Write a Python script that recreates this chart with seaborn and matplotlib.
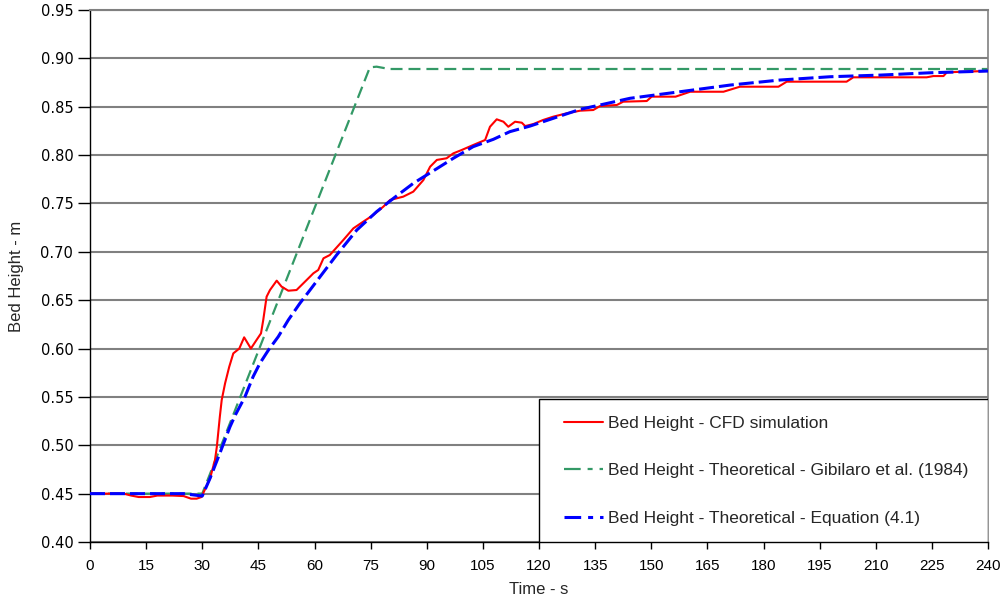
import numpy as np
import pandas as pd
import matplotlib
matplotlib.use("Agg")
import matplotlib.pyplot as plt
import seaborn as sns
from matplotlib.lines import Line2D
from matplotlib.patches import Rectangle

# ---------------- data ----------------
cfd_time = [0, 9, 11, 13, 16, 18, 22, 25, 27, 28.5, 29.8, 32.1, 33.4, 33.9, 34.7, 35.2, 36.1,
            37.2, 38.3, 39.9, 41.2, 43.0, 44.5, 45.7, 46.3, 47.2, 48.1, 49.9, 51.2, 53.0, 55.2,
            57.0, 58.8, 59.7, 61.0, 62.4, 64.1, 67.7, 70.4, 73.0, 75.7, 78.4, 80.2, 83.7, 86.4,
            89.1, 90.9, 92.7, 95.3, 97.1, 99.3, 102.4, 105.6, 106.9, 108.7, 110.5, 111.8, 113.6,
            115.4, 116.3, 118.5, 121.1, 123.8, 127.4, 131.0, 134.5, 136.3, 140.8, 142.5, 148.8,
            150.1, 156.5, 160.4, 169.3, 173.7, 184.0, 186.2, 202.2, 204.0, 223.6, 225.4, 228.1,
            229.0, 240]
cfd_height = [0.450, 0.450, 0.448, 0.4465, 0.4465, 0.448, 0.448, 0.4475, 0.4448, 0.4448, 0.4465,
              0.466, 0.4848, 0.4985, 0.5296, 0.5468, 0.564, 0.581, 0.595, 0.600, 0.6116, 0.600,
              0.6088, 0.6157, 0.6295, 0.6536, 0.6605, 0.6702, 0.664, 0.6598, 0.6605, 0.6674,
              0.6743, 0.6778, 0.6812, 0.6933, 0.6967, 0.7122, 0.7243, 0.7311, 0.738, 0.7467,
              0.7536, 0.757, 0.7622, 0.7742, 0.788, 0.795, 0.7967, 0.8018, 0.8052, 0.8104,
              0.8156, 0.8293, 0.837, 0.8345, 0.8293, 0.8345, 0.8335, 0.830, 0.8321, 0.8363,
              0.8397, 0.8432, 0.8459, 0.8466, 0.8507, 0.8518, 0.8552, 0.8559, 0.8604, 0.8604,
              0.8655, 0.8655, 0.8707, 0.8707, 0.8759, 0.8759, 0.8804, 0.8804, 0.8817, 0.8817,
              0.8856, 0.8870]

gib_time = [0, 30, 74.8, 76.6, 80, 240]
gib_height = [0.450, 0.450, 0.8907, 0.8914, 0.889, 0.889]

eq_time = [0, 25, 30, 32.1, 34.7, 37.4, 38.8, 41.4, 43.6, 45.4, 47.7, 50.3, 53.0, 56.1, 58.8,
           61.5, 65.9, 71.3, 76.6, 81.1, 86.4, 92.7, 97.1, 102.4, 107.8, 112.2, 117.6, 123.8,
           131.0, 136.3, 144.3, 157.7, 171.1, 184.4, 197.8, 211.2, 224.5, 240]
eq_height = [0.450, 0.450, 0.4475, 0.466, 0.4917, 0.519, 0.531, 0.550, 0.571, 0.5847, 0.5985,
             0.6122, 0.6295, 0.6468, 0.6605, 0.6743, 0.6967, 0.7225, 0.7415, 0.7553, 0.7708,
             0.786, 0.7967, 0.8087, 0.8163, 0.8242, 0.830, 0.838, 0.8473, 0.8518, 0.8587,
             0.8655, 0.8724, 0.8776, 0.881, 0.8827, 0.8851, 0.8869]

series_labels = ["Bed Height - CFD simulation",
                 "Bed Height - Theoretical - Gibilaro et al. (1984)",
                 "Bed Height - Theoretical - Equation (4.1)"]
x_ticks = list(range(0, 241, 15))
y_ticks = [0.40, 0.45, 0.50, 0.55, 0.60, 0.65, 0.70, 0.75, 0.80, 0.85, 0.90, 0.95]

# ---------------- style ----------------
sns.set_style("white")
plt.rcParams["font.family"] = ["Liberation Sans", "DejaVu Sans"]
plt.rcParams["lines.scale_dashes"] = False

RED, GREEN, BLUE = "#FF0000", "#339966", "#0000FF"
GRID = "#808080"

fig = plt.figure(figsize=(10.07, 6.04), dpi=100)
ax = fig.add_axes([90 / 1007, 62 / 604, 898 / 1007, 532 / 604])

sns.lineplot(x=cfd_time, y=cfd_height, ax=ax, color=RED, lw=1.5, sort=False,
             estimator=None, zorder=3)
sns.lineplot(x=gib_time, y=gib_height, ax=ax, color=GREEN, lw=1.6, sort=False,
             estimator=None, zorder=2)
ax.lines[-1].set_dashes([8.6, 4.3])
sns.lineplot(x=eq_time, y=eq_height, ax=ax, color=BLUE, lw=2.2, sort=False,
             estimator=None, zorder=4)
ax.lines[-1].set_dashes([10.8, 3.6])

ax.set_xlim(0, 240)
ax.set_ylim(0.40, 0.95)
ax.set_xticks(x_ticks)
ax.set_yticks(y_ticks)
ax.set_yticklabels([f"{v:.2f}" for v in y_ticks], family="DejaVu Sans", fontsize=10.5)
ax.set_xticklabels([str(v) for v in x_ticks],
                   family=["Liberation Sans Narrow", "Liberation Sans"], fontsize=11)

ax.set_axisbelow(True)
ax.yaxis.grid(True, color=GRID, lw=1.5)
ax.xaxis.grid(False)

for s in ["left", "bottom"]:
    ax.spines[s].set_color("black")
    ax.spines[s].set_linewidth(1.0)
ax.spines["right"].set_color(GRID)
ax.spines["right"].set_linewidth(1.2)
ax.spines["top"].set_color(GRID)
ax.spines["top"].set_linewidth(1.5)

ax.tick_params(axis="x", direction="out", length=5, width=1, color="black", pad=7,
               labelcolor="black", bottom=True)
ax.tick_params(axis="y", direction="out", length=9, width=1, color="black", pad=3,
               labelcolor="black", left=True)

ax.set_xlabel("Time - s", family=["Liberation Sans Narrow", "Liberation Sans"], fontsize=12)
ax.set_ylabel("Bed Height - m", fontsize=12)
ax.xaxis.set_label_coords(0.5, -0.075)
ax.yaxis.set_label_coords(-0.0735, 0.5)

# legend box (bottom-right)
box = Rectangle((0.5, 0.0), 0.5, (542 - 399) / 532, transform=ax.transAxes,
                facecolor="white", edgecolor="black", lw=1.0, zorder=5)
ax.add_patch(box)

handles = [
    Line2D([], [], color=RED, lw=1.5),
    Line2D([], [], color=GREEN, lw=1.6, dashes=[12, 5, 3.6, 5, 3.6, 5]),
    Line2D([], [], color=BLUE, lw=2.2, dashes=[12, 5, 3.6, 5, 3.6, 5]),
]
leg = ax.legend(handles, series_labels, loc="upper left",
                bbox_to_anchor=((564 - 90) / 898, (542 - 416) / 532),
                frameon=False, fontsize=12.5, handlelength=2.25, handletextpad=0.3,
                borderpad=0, borderaxespad=0, labelspacing=1.85)
leg.set_zorder(6)

fig.savefig("out.png", dpi=100)
